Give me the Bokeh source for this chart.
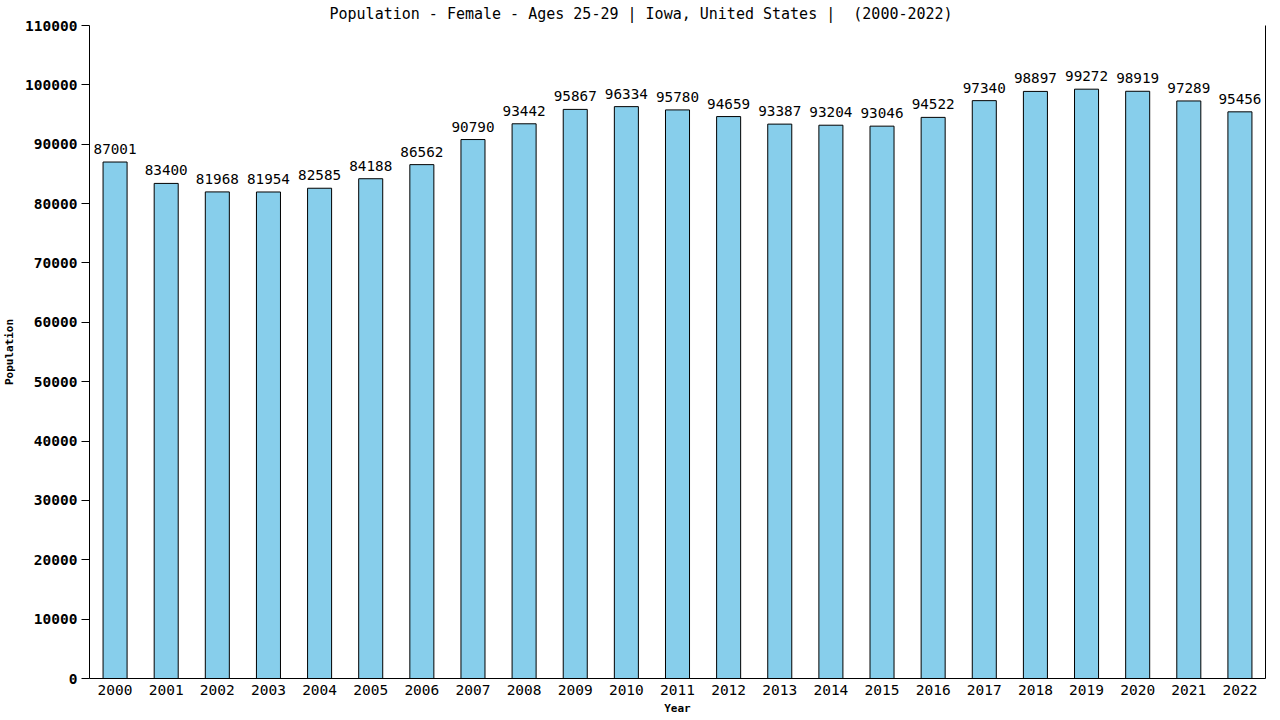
from bokeh.plotting import figure
from bokeh.models import ColumnDataSource, FixedTicker, LinearAxis, Range1d, BasicTickFormatter
from bokeh.core.properties import value
from bokeh.embed import file_html
from bokeh.resources import INLINE

years = [str(y) for y in range(2000, 2023)]
values = [87001, 83400, 81968, 81954, 82585, 84188, 86562, 90790, 93442, 95867,
          96334, 95780, 94659, 93387, 93204, 93046, 94522, 97340, 98897, 99272,
          98919, 97289, 95456]
y_ticks = list(range(0, 110001, 10000))

FONT = "DejaVu Sans Mono"

src = ColumnDataSource(dict(x=years, y=values, lbl=[str(v) for v in values]))

p = figure(x_range=years, y_range=Range1d(0, 110000), width=1272, height=717,
           output_backend="svg", toolbar_location=None,
           min_border_left=87, min_border_right=7, min_border_top=25, min_border_bottom=37)
p.title.text = "Population - Female - Ages 25-29 | Iowa, United States |\u00a0 (2000-2022)"
p.title.align = "left"
p.title.text_font = FONT
p.title.text_font_size = "15px"
p.title.text_font_style = "normal"
p.title.text_color = "black"
p.title.offset = 240
p.title.standoff = 5

p.vbar(x="x", top="y", width=0.47, source=src, fill_color="#87CEEB",
       line_color="black", line_width=1)
p.text(x="x", y="y", text="lbl", source=src, text_align="center",
       text_baseline="bottom", y_offset=-8, text_font=value(FONT),
       text_font_size="14.3px", text_color="black")

p.xgrid.visible = False
p.ygrid.visible = False
p.outline_line_color = None

p.yaxis.ticker = FixedTicker(ticks=y_ticks)
p.yaxis.formatter = BasicTickFormatter(use_scientific=False)
p.yaxis.major_label_text_font = FONT
p.yaxis.major_label_text_font_size = "14.5px"
p.yaxis.major_label_text_font_style = "bold"
p.yaxis.major_label_text_color = "black"
p.yaxis.major_label_standoff = 4
p.yaxis.major_tick_in = 0
p.yaxis.major_tick_out = 8
p.yaxis.major_tick_line_color = "black"
p.yaxis.minor_tick_line_color = None
p.yaxis.axis_label = "Population"
p.yaxis.axis_label_text_font = FONT
p.yaxis.axis_label_text_font_size = "11px"
p.yaxis.axis_label_text_font_style = "bold"
p.yaxis.axis_label_text_color = "black"
p.yaxis.axis_label_standoff = 6
p.yaxis.axis_line_color = "black"

p.xaxis.major_tick_line_color = None
p.xaxis.major_tick_out = 0
p.xaxis.major_tick_in = 0
p.xaxis.major_label_text_font = FONT
p.xaxis.major_label_text_font_size = "14.5px"
p.xaxis.major_label_text_color = "black"
p.xaxis.major_label_standoff = 6
p.xaxis.axis_label = "Year"
p.xaxis.axis_label_text_font = FONT
p.xaxis.axis_label_text_font_size = "11px"
p.xaxis.axis_label_text_font_style = "bold"
p.xaxis.axis_label_text_color = "black"
p.xaxis.axis_label_standoff = 4
p.xaxis.axis_line_color = "black"

right = LinearAxis(ticker=FixedTicker(ticks=[]), major_tick_line_color=None,
                   minor_tick_line_color=None, major_label_text_font_size="0px",
                   major_tick_out=0, major_tick_in=0, axis_line_color="black")
p.add_layout(right, "right")

open("out.html", "w").write(file_html(p, INLINE))
